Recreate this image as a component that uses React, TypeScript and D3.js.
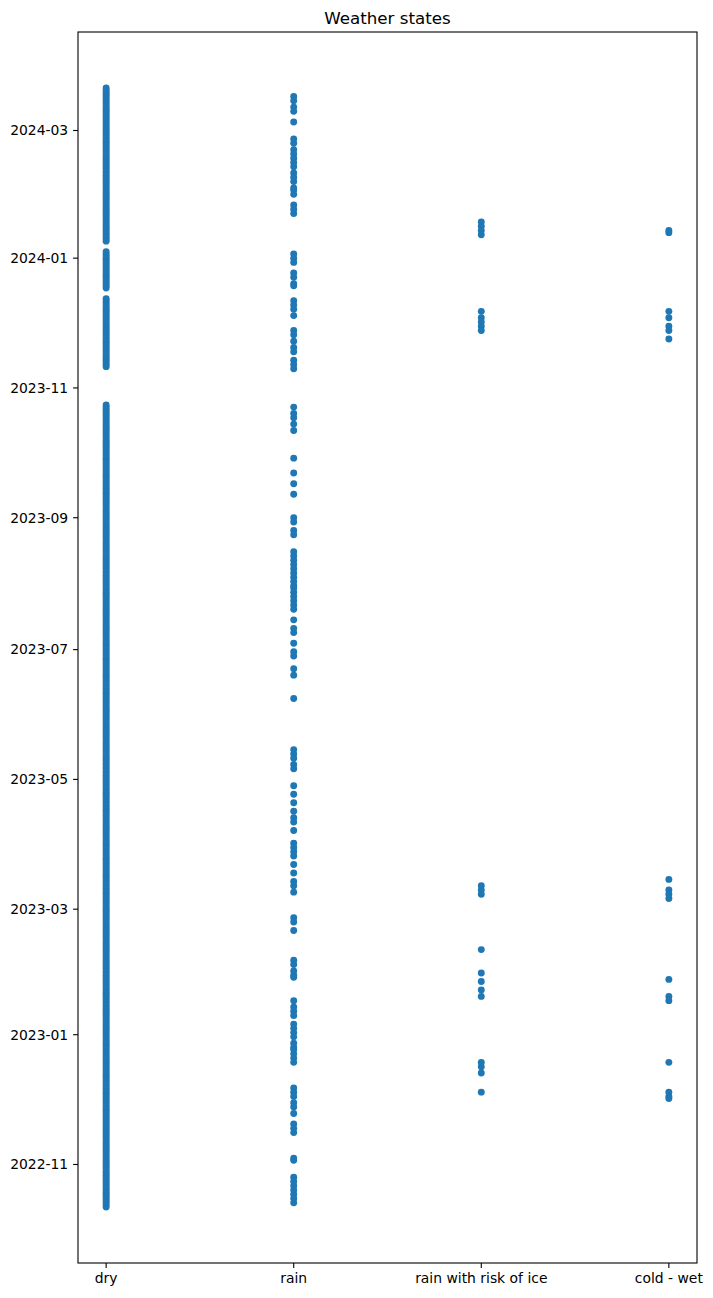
import React from "react";
import * as d3 from "d3";

const categories = ["dry", "rain", "rain with risk of ice", "cold - wet"];

// Dry state: runs of consecutive days on which "dry" was observed
const dryRuns: [string, string][] = [
  ["2022-10-12", "2023-10-24"],
  ["2023-11-11", "2023-12-13"],
  ["2023-12-18", "2024-01-04"],
  ["2024-01-09", "2024-03-21"],
];

const rainDates = [
  "2024-03-17", "2024-03-15", "2024-03-12", "2024-03-10", "2024-03-05",
  "2024-02-26", "2024-02-24", "2024-02-21", "2024-02-19", "2024-02-17", "2024-02-15",
  "2024-02-13", "2024-02-10", "2024-02-08", "2024-02-06", "2024-02-03", "2024-02-02",
  "2024-01-31", "2024-01-26", "2024-01-24", "2024-01-22", "2024-01-03", "2024-01-01",
  "2023-12-30", "2023-12-25", "2023-12-23", "2023-12-20", "2023-12-19", "2023-12-12",
  "2023-12-10", "2023-12-08", "2023-12-05", "2023-11-28", "2023-11-26", "2023-11-23",
  "2023-11-20", "2023-11-18", "2023-11-14", "2023-11-12", "2023-11-10",
  "2023-10-23", "2023-10-20", "2023-10-18", "2023-10-15", "2023-10-12",
  "2023-09-29", "2023-09-22", "2023-09-17", "2023-09-12", "2023-09-01",
  "2023-08-30", "2023-08-26", "2023-08-24", "2023-08-16", "2023-08-14", "2023-08-12",
  "2023-08-10", "2023-08-08", "2023-08-06", "2023-08-04", "2023-08-02",
  "2023-07-31", "2023-07-30", "2023-07-28", "2023-07-26", "2023-07-24", "2023-07-22",
  "2023-07-20", "2023-07-15", "2023-07-11", "2023-07-09", "2023-07-04",
  "2023-06-30", "2023-06-28", "2023-06-22", "2023-06-19", "2023-06-08",
  "2023-05-15", "2023-05-13", "2023-05-11", "2023-05-08", "2023-05-06",
  "2023-04-28", "2023-04-24", "2023-04-20", "2023-04-16", "2023-04-13", "2023-04-11",
  "2023-04-07", "2023-04-01", "2023-03-30", "2023-03-28", "2023-03-26", "2023-03-22",
  "2023-03-18", "2023-03-14", "2023-03-12", "2023-03-09",
  "2023-02-25", "2023-02-23", "2023-02-19", "2023-02-05", "2023-02-03",
  "2023-01-31", "2023-01-29", "2023-01-28", "2023-01-17", "2023-01-14", "2023-01-12",
  "2023-01-10", "2023-01-06", "2023-01-04", "2023-01-02",
  "2022-12-31", "2022-12-28", "2022-12-26", "2022-12-25", "2022-12-23", "2022-12-21",
  "2022-12-19", "2022-12-07", "2022-12-05", "2022-12-03",
  "2022-11-30", "2022-11-28", "2022-11-25", "2022-11-20", "2022-11-18", "2022-11-16",
  "2022-11-04", "2022-11-03",
  "2022-10-26", "2022-10-24", "2022-10-22", "2022-10-20", "2022-10-18", "2022-10-16", "2022-10-14",
];

const iceDates = [
  "2024-01-18", "2024-01-16", "2024-01-14", "2024-01-12",
  "2023-12-07", "2023-12-04", "2023-12-02", "2023-11-30", "2023-11-28",
  "2023-03-12", "2023-03-10", "2023-03-08", "2023-02-10",
  "2023-01-30", "2023-01-26", "2023-01-22", "2023-01-19",
  "2022-12-19", "2022-12-17", "2022-12-14", "2022-12-05",
];

const coldWetDates = [
  "2024-01-14", "2024-01-13",
  "2023-12-07", "2023-12-04", "2023-11-30", "2023-11-28", "2023-11-24",
  "2023-03-15", "2023-03-10", "2023-03-08", "2023-03-06",
  "2023-01-27", "2023-01-19", "2023-01-17",
  "2022-12-19", "2022-12-05", "2022-12-03", "2022-12-02",
];

const yTickLabels = ["2022-11", "2023-01", "2023-03", "2023-05", "2023-07", "2023-09", "2023-11", "2024-01", "2024-03"];

const W = 713;
const H = 1298;
const M = { left: 78, right: 697, top: 32, bottom: 1263 };
const FONT = "'DejaVu Sans', sans-serif";
const COLOR = "#1f77b4";

export default function App() {
  const parse = d3.timeParse("%Y-%m-%d");
  const parseM = d3.timeParse("%Y-%m");

  const dryDates: Date[] = [];
  dryRuns.forEach(([s, e]) => {
    const start = parse(s)!;
    const end = d3.timeDay.offset(parse(e)!, 1);
    d3.timeDay.range(start, end).forEach((d) => dryDates.push(d));
  });

  const series: Date[][] = [
    dryDates,
    rainDates.map((s) => parse(s)!),
    iceDates.map((s) => parse(s)!),
    coldWetDates.map((s) => parse(s)!),
  ];

  const all = series.flat();
  const [mn, mx] = d3.extent(all, (d) => d.getTime()) as [number, number];
  const pad = (mx - mn) * 0.05;

  const y = d3.scaleTime().domain([new Date(mn - pad), new Date(mx + pad)]).range([M.bottom, M.top]);
  const xIdx = d3.scaleLinear().domain([-0.15, categories.length - 1 + 0.15]).range([M.left, M.right]);

  const tickLen = 4.9;
  const fs = 13.9;

  return (
    <svg width={W} height={H} style={{ position: "absolute", left: 0, top: 0, background: "#fff" }} fontFamily={FONT}>
      <rect x={0} y={0} width={W} height={H} fill="#fff" />
      <g>
        {series.map((dates, i) =>
          dates.map((d, j) => (
            <circle key={`${i}-${j}`} cx={xIdx(i)} cy={y(d)} r={3.45} fill={COLOR} />
          ))
        )}
      </g>
      <rect x={M.left} y={M.top} width={M.right - M.left} height={M.bottom - M.top} fill="none" stroke="#000" strokeWidth={1.1} />
      {yTickLabels.map((t) => {
        const yy = y(parseM(t)!);
        return (
          <g key={t}>
            <line x1={M.left - tickLen} x2={M.left} y1={yy} y2={yy} stroke="#000" strokeWidth={1.1} />
            <text x={M.left - tickLen - 4.9} y={yy} dy="0.35em" textAnchor="end" fontSize={fs} fill="#000">
              {t}
            </text>
          </g>
        );
      })}
      {categories.map((c, i) => {
        const xx = xIdx(i);
        return (
          <g key={c}>
            <line x1={xx} x2={xx} y1={M.bottom} y2={M.bottom + tickLen} stroke="#000" strokeWidth={1.1} />
            <text x={xx} y={M.bottom + tickLen + 4.9} dy="0.76em" textAnchor="middle" fontSize={fs} fill="#000">
              {c}
            </text>
          </g>
        );
      })}
      <text x={(M.left + M.right) / 2} y={M.top - 8.3} textAnchor="middle" fontSize={16.7} fill="#000">
        Weather states
      </text>
    </svg>
  );
}
